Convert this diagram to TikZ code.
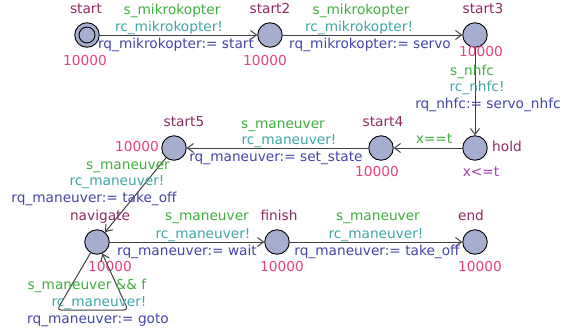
\documentclass[tikz,border=0pt]{standalone}
\usepackage{fontspec}
\setmainfont{DejaVu Sans}
\usetikzlibrary{arrows.meta}
\definecolor{locname}{HTML}{8E2A62}
\definecolor{rate}{HTML}{E8407A}
\definecolor{guard}{HTML}{3FAE3F}
\definecolor{sync}{HTML}{3FA6A6}
\definecolor{assign}{HTML}{4444AA}
\definecolor{inv}{HTML}{A03CB4}
\definecolor{locfill}{HTML}{A6AECF}
\definecolor{edgecol}{HTML}{404040}
\tikzset{
  loc/.style={circle,draw=black,line width=0.9pt,fill=locfill,minimum size=24.5pt,inner sep=0pt},
  lbl/.style={inner sep=0pt,anchor=center,yshift=-1.2pt,text height=0.74em,text depth=0.2em,font=\fontsize{13.7}{15}\selectfont},
  nm/.style={lbl,text=locname},
  rt/.style={lbl,text=rate},
  gd/.style={lbl,text=guard},
  sy/.style={lbl,text=sync},
  as/.style={lbl,text=assign},
  iv/.style={lbl,text=inv},
  edge/.style={draw=edgecol,line width=1pt,-{Straight Barb[length=6pt,width=9pt]}}
}
\begin{document}
\begin{tikzpicture}[x=1pt,y=-1pt]
\useasboundingbox (0,0) rectangle (561,335);
% locations
\node[loc] (start) at (87,35) {};
\draw[line width=0.9pt] (start) circle (8pt);
\node[loc] (start2) at (270,35) {};
\node[loc] (start3) at (475,35) {};
\node[loc] (hold) at (475,148) {};
\node[loc] (start4) at (381,148) {};
\node[loc] (start5) at (174,148) {};
\node[loc] (navigate) at (97,242) {};
\node[loc] (finish) at (277,242) {};
\node[loc] (end) at (475,242) {};
% names and rates
\node[nm] (n1) at (86,10) {start};
\node[rt] (r1) at (85,62) {10000};
\node[nm] (n2) at (270,10) {start2};
\node[rt] (r2) at (265,62) {10000};
\node[nm] (n3) at (483,10) {start3};
\node[rt] (r3) at (481,53) {10000};
\node[nm] (n4) at (507,148) {hold};
\node[iv] (i4) at (481,173) {x<=t};
\node[nm] (n5) at (383,123) {start4};
\node[rt] (r5) at (377,173) {10000};
\node[nm] (n6) at (184,123) {start5};
\node[rt] (r6) at (137,148) {10000};
\node[nm] (n7) at (100,217) {navigate};
\node[rt] (r7) at (110,268) {10000};
\node[nm] (n8) at (279,217) {finish};
\node[rt] (r8) at (282,268) {10000};
\node[nm] (n9) at (471,217) {end};
\node[rt] (r9) at (480,268) {10000};
% edges
\draw[edge] (start) -- (start2);
\draw[edge] (start2) -- (start3);
\draw[edge] (start3) -- (hold);
\draw[edge] (hold) -- (start4);
\draw[edge] (start4) -- (start5);
\draw[edge] (start5) -- (navigate);
\draw[edge] (navigate) -- (finish);
\draw[edge] (finish) -- (end);
\coordinate (la) at (57,310);
\coordinate (lb) at (128,310);
\draw[edge,rounded corners=4pt] (navigate) -- (la) -- (lb) -- (navigate);
% edge labels
\node[gd] (g1) at (172,11) {s\_mikrokopter};
\node[sy] (s1) at (169,28) {rc\_mikrokopter!};
\node[as] (a1) at (176,45) {rq\_mikrokopter:= start};
\node[gd] (g2) at (361,11) {s\_mikrokopter};
\node[sy] (s2) at (359,28) {rc\_mikrokopter!};
\node[as] (a2) at (370,45) {rq\_mikrokopter:= servo};
\node[gd] (g3) at (472,72) {s\_nhfc};
\node[sy] (s3) at (477,88) {rc\_nhfc!};
\node[as] (a3) at (488,105) {rq\_nhfc:= servo\_nhfc};
\node[gd] (g4) at (434,140) {x==t};
\node[gd] (g5) at (283,125) {s\_maneuver};
\node[sy] (s5) at (289,141) {rc\_maneuver!};
\node[as] (a5) at (276,158) {rq\_maneuver:= set\_state};
\node[gd] (g6) at (128,166) {s\_maneuver};
\node[sy] (s6) at (117,182) {rc\_maneuver!};
\node[as] (a6) at (94,199) {rq\_maneuver:= take\_off};
\node[gd] (g7) at (207,217) {s\_maneuver};
\node[sy] (s7) at (203,235) {rc\_maneuver!};
\node[as] (a7) at (187,252) {rq\_maneuver:= wait};
\node[gd] (g8) at (378,217) {s\_maneuver};
\node[sy] (s8) at (376,235) {rc\_maneuver!};
\node[as] (a8) at (377,252) {rq\_maneuver:= take\_off};
\node[gd] (g9) at (87,286) {s\_maneuver \&\& f};
\node[sy] (s9) at (99,303) {rc\_maneuver!};
\node[as] (a9) at (98,320) {rq\_maneuver:= goto};
\end{tikzpicture}
\end{document}
